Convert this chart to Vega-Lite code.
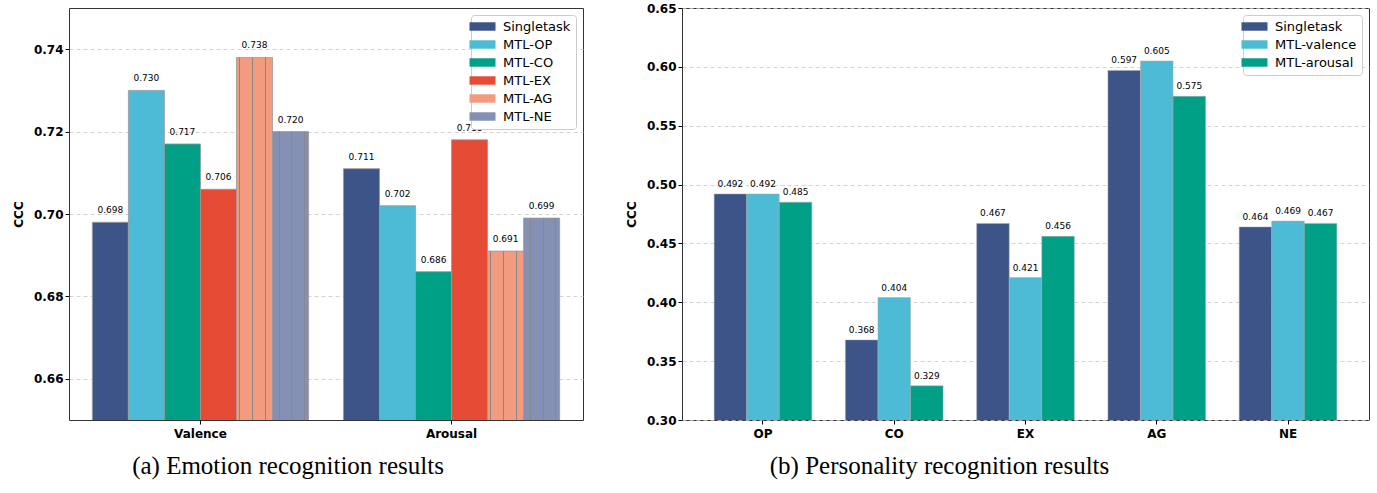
{
  "$schema": "https://vega.github.io/schema/vega-lite/v6.json",
  "padding": {"left": 11, "top": 1, "right": 2, "bottom": 5},
  "spacing": 40,
  "config": {
    "view": {"stroke": "#333", "strokeWidth": 1},
    "font": "DejaVu Sans",
    "axis": {"labelFont": "DejaVu Sans", "labelFontWeight": "bold", "labelFontSize": 12, "labelColor": "#000", "titleFont": "DejaVu Sans", "titleFontWeight": "bold", "titleFontSize": 12, "titleColor": "#000", "tickColor": "#000", "tickSize": 4, "domain": false, "gridColor": "#c8c8c8", "gridDash": [4, 3], "gridWidth": 0.8},
    "legend": {"labelFont": "DejaVu Sans", "labelFontSize": 13, "labelColor": "#000", "fillColor": "white", "strokeColor": "#ccc", "cornerRadius": 3, "padding": 5, "symbolType": "M-2,-0.65H2V0.65H-2Z", "symbolSize": 169, "symbolStrokeWidth": 0, "rowPadding": 4, "labelOffset": 14, "offset": 7},
    "title": {"font": "Liberation Serif", "fontSize": 25, "fontWeight": "normal", "color": "#000", "orient": "bottom", "offset": 15}
  },
  "hconcat": [
    {
      "width": 514,
      "height": 412,
      "title": {"text": "(a) Emotion recognition results", "dx": -38},
      "data": {"values": [
        {"task": "Valence", "model": "Singletask", "ccc": 0.698},
        {"task": "Valence", "model": "MTL-OP", "ccc": 0.730},
        {"task": "Valence", "model": "MTL-CO", "ccc": 0.717},
        {"task": "Valence", "model": "MTL-EX", "ccc": 0.706},
        {"task": "Valence", "model": "MTL-AG", "ccc": 0.738},
        {"task": "Valence", "model": "MTL-NE", "ccc": 0.720},
        {"task": "Arousal", "model": "Singletask", "ccc": 0.711},
        {"task": "Arousal", "model": "MTL-OP", "ccc": 0.702},
        {"task": "Arousal", "model": "MTL-CO", "ccc": 0.686},
        {"task": "Arousal", "model": "MTL-EX", "ccc": 0.718},
        {"task": "Arousal", "model": "MTL-AG", "ccc": 0.691},
        {"task": "Arousal", "model": "MTL-NE", "ccc": 0.699}
      ]},
      "encoding": {
        "x": {"field": "task", "type": "nominal", "sort": ["Valence", "Arousal"], "scale": {"paddingInner": 0.139, "paddingOuter": 0.093}, "axis": {"title": null, "labelAngle": 0, "labelPadding": 4}},
        "xOffset": {"field": "model", "type": "nominal", "sort": ["Singletask", "MTL-OP", "MTL-CO", "MTL-EX", "MTL-AG", "MTL-NE"]},
        "y": {"field": "ccc", "type": "quantitative", "scale": {"domain": [0.65, 0.75], "zero": false, "nice": false}, "axis": {"title": "CCC", "values": [0.66, 0.68, 0.70, 0.72, 0.74], "format": ".2f", "grid": true, "titlePadding": 8}}
      },
      "layer": [
        {
          "mark": {"type": "bar", "stroke": "#999", "strokeWidth": 0.8, "clip": true},
          "encoding": {
            "color": {"field": "model", "type": "nominal", "sort": ["Singletask", "MTL-OP", "MTL-CO", "MTL-EX", "MTL-AG", "MTL-NE"], "scale": {"domain": ["Singletask", "MTL-OP", "MTL-CO", "MTL-EX", "MTL-AG", "MTL-NE"], "range": ["#3C5488", "#4DBBD5", "#00A087", "#E64B35", "#F39B7F", "#8491B4"]}, "legend": {"title": null, "orient": "top-right"}}
          }
        },
        {
          "mark": {"type": "bar", "strokeWidth": 0, "clip": true},
          "encoding": {"fill": {"condition": [
            {"test": "datum.model==='MTL-AG'", "value": {"gradient": "linear", "x1": 0, "y1": 0, "x2": 1, "y2": 0, "stops": [{"offset":0,"color":"transparent"},{"offset":0.076,"color":"transparent"},{"offset":0.076,"color":"#888"},{"offset":0.104,"color":"#888"},{"offset":0.104,"color":"transparent"},{"offset":0.426,"color":"transparent"},{"offset":0.426,"color":"#888"},{"offset":0.454,"color":"#888"},{"offset":0.454,"color":"transparent"},{"offset":0.786,"color":"transparent"},{"offset":0.786,"color":"#888"},{"offset":0.814,"color":"#888"},{"offset":0.814,"color":"transparent"},{"offset":1,"color":"transparent"}]}},
            {"test": "datum.model==='MTL-NE'", "value": {"gradient": "linear", "x1": 0, "y1": 0, "x2": 1, "y2": 0, "stops": [{"offset":0,"color":"transparent"},{"offset":0.176,"color":"transparent"},{"offset":0.176,"color":"#888"},{"offset":0.204,"color":"#888"},{"offset":0.204,"color":"transparent"},{"offset":0.526,"color":"transparent"},{"offset":0.526,"color":"#888"},{"offset":0.554,"color":"#888"},{"offset":0.554,"color":"transparent"},{"offset":0.876,"color":"transparent"},{"offset":0.876,"color":"#888"},{"offset":0.904,"color":"#888"},{"offset":0.904,"color":"transparent"},{"offset":1,"color":"transparent"}]}}
          ], "value": "transparent"}}
        },
        {
          "mark": {"type": "text", "baseline": "bottom", "dy": -7, "fontSize": 9, "color": "#000"},
          "encoding": {"text": {"field": "ccc", "type": "quantitative", "format": ".3f"}}
        }
      ]
    },
    {
      "width": 687,
      "height": 412,
      "title": {"text": "(b) Personality recognition results", "dx": -86},
      "data": {"values": [
        {"trait": "OP", "model": "Singletask", "ccc": 0.492},
        {"trait": "OP", "model": "MTL-valence", "ccc": 0.492},
        {"trait": "OP", "model": "MTL-arousal", "ccc": 0.485},
        {"trait": "CO", "model": "Singletask", "ccc": 0.368},
        {"trait": "CO", "model": "MTL-valence", "ccc": 0.404},
        {"trait": "CO", "model": "MTL-arousal", "ccc": 0.329},
        {"trait": "EX", "model": "Singletask", "ccc": 0.467},
        {"trait": "EX", "model": "MTL-valence", "ccc": 0.421},
        {"trait": "EX", "model": "MTL-arousal", "ccc": 0.456},
        {"trait": "AG", "model": "Singletask", "ccc": 0.597},
        {"trait": "AG", "model": "MTL-valence", "ccc": 0.605},
        {"trait": "AG", "model": "MTL-arousal", "ccc": 0.575},
        {"trait": "NE", "model": "Singletask", "ccc": 0.464},
        {"trait": "NE", "model": "MTL-valence", "ccc": 0.469},
        {"trait": "NE", "model": "MTL-arousal", "ccc": 0.467}
      ]},
      "encoding": {
        "x": {"field": "trait", "type": "nominal", "sort": ["OP", "CO", "EX", "AG", "NE"], "scale": {"paddingInner": 0.256, "paddingOuter": 0.245}, "axis": {"title": null, "labelAngle": 0, "labelPadding": 4}},
        "xOffset": {"field": "model", "type": "nominal", "sort": ["Singletask", "MTL-valence", "MTL-arousal"]},
        "y": {"field": "ccc", "type": "quantitative", "scale": {"domain": [0.30, 0.65], "zero": false, "nice": false}, "axis": {"title": "CCC", "values": [0.30, 0.35, 0.40, 0.45, 0.50, 0.55, 0.60, 0.65], "format": ".2f", "grid": true, "titlePadding": 8}}
      },
      "layer": [
        {
          "mark": {"type": "bar", "stroke": "#aaa", "strokeWidth": 0.5, "clip": true},
          "encoding": {
            "color": {"field": "model", "type": "nominal", "sort": ["Singletask", "MTL-valence", "MTL-arousal"], "scale": {"domain": ["Singletask", "MTL-valence", "MTL-arousal"], "range": ["#3C5488", "#4DBBD5", "#00A087"]}, "legend": {"title": null, "orient": "top-right"}}
          }
        },
        {
          "mark": {"type": "text", "baseline": "bottom", "dy": -5, "fontSize": 9, "color": "#000"},
          "encoding": {"text": {"field": "ccc", "type": "quantitative", "format": ".3f"}}
        }
      ]
    }
  ],
  "resolve": {"scale": {"color": "independent", "y": "independent", "x": "independent", "xOffset": "independent"}, "legend": {"color": "independent"}}
}
